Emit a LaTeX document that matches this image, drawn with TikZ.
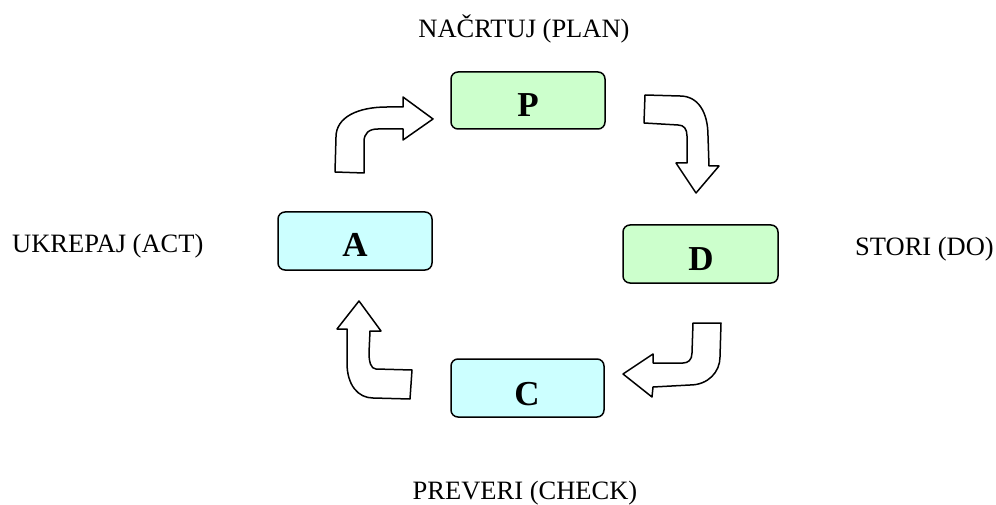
\documentclass[tikz,border=0pt]{standalone}
\usepackage{fontspec}
\setmainfont{Liberation Serif}
\definecolor{planfill}{HTML}{CCFFCC}
\definecolor{checkfill}{HTML}{CCFFFF}
\begin{document}
\begin{tikzpicture}[x=1pt,y=-1pt,
  phasebox/.style={draw=black,line width=1.5pt,rounded corners=7pt},
  phaseletter/.style={font=\fontsize{35}{40}\selectfont\bfseries,inner sep=0pt},
  caption/.style={font=\fontsize{26.5}{30}\selectfont,inner sep=0pt},
  bentarrow/.style={draw=black,fill=white,line width=1.5pt,line join=round}]
\useasboundingbox (0,0) rectangle (996,505);

% phase boxes
\draw[phasebox,fill=planfill]  (451,72)  rectangle (605,129) coordinate (pbr);
\draw[phasebox,fill=planfill]  (623,225) rectangle (778,283) coordinate (dbr);
\draw[phasebox,fill=checkfill] (451,359) rectangle (604,417) coordinate (cbr);
\draw[phasebox,fill=checkfill] (278,212) rectangle (432,270) coordinate (abr);

% phase letters
\node[phaseletter] (P) at (528,105) {P};
\node[phaseletter] (D) at (701,259) {D};
\node[phaseletter] (C) at (527,394) {C};
\node[phaseletter] (A) at (355,245) {A};

% captions
\node[caption,anchor=base] (plan)  at (524,38)  {NAČRTUJ (PLAN)};
\node[caption,anchor=base west] (act) at (12,253) {UKREPAJ (ACT)};
\node[caption,anchor=base west] (do)  at (855,255) {STORI (DO)};
\node[caption,anchor=base] (check) at (525,499) {PREVERI (CHECK)};

% bent block arrows of the cycle
\draw[bentarrow] (335,172) -- (336,137) .. controls (336,117) and (358,107) .. (387,107)
  -- (403,107) -- (403,97) -- (433,119) -- (403,140) -- (403,129) -- (378,129)
  .. controls (369,129) and (364,133) .. (364,142) -- (364,173) -- cycle;
\draw[bentarrow] (645,95) -- (680,96) .. controls (698,96) and (708,112) .. (708,136)
  -- (709,166) -- (719,166) -- (696,193) -- (676,163) -- (687,163) -- (687,136)
  .. controls (687,129) and (684,125) .. (678,125) -- (644,123) -- cycle;
\draw[bentarrow] (721,323) -- (693,323) -- (692,353) .. controls (692,360) and (688,363) .. (683,363)
  -- (653,363) -- (653,354) -- (623,374) -- (652,397) -- (653,387) -- (690,385)
  .. controls (708,385) and (720,372) .. (720,357) -- cycle;
\draw[bentarrow] (410,399) -- (412,370) -- (376,369) .. controls (371,369) and (369,362) .. (369,353)
  -- (370,331) -- (381,331) -- (359,301) -- (337,329) -- (347,329) -- (347,363)
  .. controls (347,385) and (358,398) .. (373,398) -- cycle;
\end{tikzpicture}
\end{document}
